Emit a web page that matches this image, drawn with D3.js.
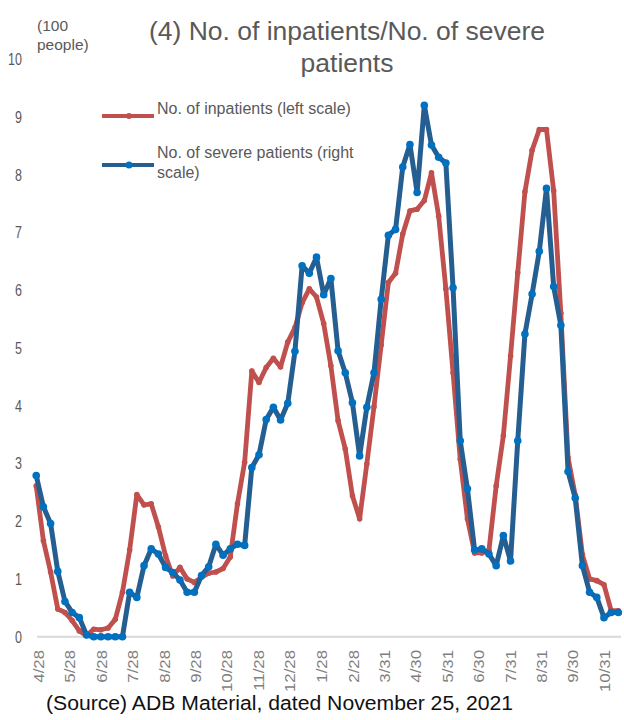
<!DOCTYPE html>
<html>
<head>
<meta charset="utf-8">
<script src="https://cdn.jsdelivr.net/npm/d3@7"></script>
<style>
  body { margin: 0; background: #fff; }
  svg { display: block; }
  text { font-family: "Liberation Sans", Arial, sans-serif; }
</style>
</head>
<body>
<svg id="chart" width="624" height="720"></svg>
<script>
// Weekly series, first week starting 2020-04-25 (units: 100 people)
const firstWeek = "2020-04-25";
const inpatients = [
  2.61, 1.66, 1.12, 0.48, 0.42, 0.28, 0.10, 0.02, 0.13, 0.12,
  0.15, 0.30, 0.77, 1.50, 2.46, 2.28, 2.30, 1.90, 1.40, 1.05,
  1.20, 1.00, 0.94, 1.03, 1.10, 1.12, 1.18, 1.38, 2.30, 3.02,
  4.60, 4.40, 4.66, 4.82, 4.67, 5.10, 5.35, 5.78, 6.02, 5.88,
  5.42, 4.69, 3.74, 3.25, 2.44, 2.04, 2.99, 3.98, 5.05, 6.13,
  6.29, 6.97, 7.37, 7.40, 7.55, 8.03, 7.28, 6.02, 4.57, 3.07,
  2.04, 1.45, 1.45, 1.50, 2.61, 3.48, 4.86, 6.30, 7.70, 8.42,
  8.78, 8.78, 7.72, 5.60, 3.10, 2.45, 1.42, 1.00, 0.97, 0.90,
  0.45, 0.45
];
const severe = [
  2.79, 2.25, 1.96, 1.13, 0.61, 0.42, 0.33, 0.03, 0.00, 0.00,
  0.00, 0.00, 0.00, 0.77, 0.68, 1.23, 1.52, 1.43, 1.20, 1.11,
  0.98, 0.77, 0.77, 1.06, 1.21, 1.60, 1.41, 1.52, 1.60, 1.58,
  2.93, 3.15, 3.76, 3.97, 3.75, 4.04, 4.94, 6.42, 6.29, 6.57,
  5.92, 6.20, 4.95, 4.57, 4.05, 3.13, 3.97, 4.57, 5.84, 6.95,
  7.05, 8.13, 8.52, 7.69, 9.20, 8.51, 8.30, 8.20, 6.04, 3.39,
  2.56, 1.50, 1.52, 1.43, 1.23, 1.75, 1.31, 3.39, 5.24, 5.93,
  6.67, 7.76, 6.06, 5.39, 2.86, 2.40, 1.23, 0.77, 0.68, 0.33,
  0.42, 0.42
];
const tickDates = [
  "2020-04-28", "2020-05-28", "2020-06-28", "2020-07-28", "2020-08-28",
  "2020-09-28", "2020-10-28", "2020-11-28", "2020-12-28", "2021-01-28",
  "2021-02-28", "2021-03-31", "2021-04-30", "2021-05-31", "2021-06-30",
  "2021-07-31", "2021-08-31", "2021-09-30", "2021-10-31"
];
const tickLabels = [
  "4/28", "5/28", "6/28", "7/28", "8/28", "9/28", "10/28", "11/28", "12/28",
  "1/28", "2/28", "3/31", "4/30", "5/31", "6/30", "7/31", "8/31", "9/30", "10/31"
];
const yTicks = [0, 1, 2, 3, 4, 5, 6, 7, 8, 9, 10];
const titleLines = ["(4) No. of inpatients/No. of severe", "patients"];
const unitLines = ["(100", "people)"];
const legendRed = ["No. of inpatients (left scale)"];
const legendBlue = ["No. of severe patients (right", "scale)"];
const sourceNote = "(Source) ADB Material, dated November 25, 2021";

const RED = "#c0504d", BLUE_LINE = "#255e91", BLUE_DOT = "#0070c0";
const svg = d3.select("#chart");
const parse = d3.timeParse("%Y-%m-%d");

const weeks = d3.range(inpatients.length).map(i => d3.timeDay.offset(parse(firstWeek), 7 * i));

const x = d3.scaleTime()
  .domain([parse(tickDates[0]), parse(tickDates[tickDates.length - 1])])
  .range([39.3, 605]);
const y = d3.scaleLinear().domain([0, 10]).range([636.7, 59]);

// Title
svg.append("g").selectAll("text").data(titleLines).join("text")
  .attr("x", 347).attr("y", (d, i) => 40 + i * 32)
  .attr("text-anchor", "middle")
  .attr("font-size", 26.5).attr("fill", "#595959")
  .text(d => d);

// Unit note
svg.append("g").selectAll("text").data(unitLines).join("text")
  .attr("x", 37).attr("y", (d, i) => 31 + i * 19)
  .attr("font-size", 15.5).attr("fill", "#595959")
  .text(d => d);

// Y tick labels (tall, narrow digits)
svg.append("g").selectAll("text").data(yTicks).join("text")
  .attr("transform", d => `translate(22,${y(d)}) scale(1,1.35)`)
  .attr("dy", "0.36em")
  .attr("text-anchor", "end")
  .attr("font-size", 12.5).attr("fill", "#595959")
  .text(d => d);

// Baseline
svg.append("line")
  .attr("x1", 37).attr("x2", 621)
  .attr("y1", y(0)).attr("y2", y(0))
  .attr("stroke", "#d9d9d9").attr("stroke-width", 2);

// X tick labels, rotated
svg.append("g").selectAll("text").data(tickDates).join("text")
  .attr("transform", d => `translate(${x(parse(d))},650) rotate(-90) scale(1.2,1)`)
  .attr("dy", "0.36em")
  .attr("text-anchor", "end")
  .attr("font-size", 14).attr("fill", "#7f7f7f")
  .text((d, i) => tickLabels[i]);

// Series
const line = d3.line().x(d => x(d.date)).y(d => y(d.v));
function drawSeries(values, lineColor, dotColor, width, r) {
  const pts = values.map((v, i) => ({ date: weeks[i], v }));
  const g = svg.append("g");
  g.append("path").datum(pts)
    .attr("d", line)
    .attr("fill", "none")
    .attr("stroke", lineColor)
    .attr("stroke-width", width)
    .attr("stroke-linejoin", "round")
    .attr("stroke-linecap", "round");
  g.selectAll("circle").data(pts).join("circle")
    .attr("cx", d => x(d.date)).attr("cy", d => y(d.v))
    .attr("r", r).attr("fill", dotColor);
}
drawSeries(inpatients, RED, RED, 4.8, 2.8);
drawSeries(severe, BLUE_LINE, BLUE_DOT, 5, 3.8);

// Legend
function legendItem(lineY, textY, lineColor, dotColor, lines, r) {
  const g = svg.append("g");
  g.append("line").attr("x1", 102).attr("x2", 154)
    .attr("y1", lineY).attr("y2", lineY)
    .attr("stroke", lineColor).attr("stroke-width", 4);
  g.append("circle").attr("cx", 129).attr("cy", lineY).attr("r", r).attr("fill", dotColor);
  g.selectAll("text").data(lines).join("text")
    .attr("x", 157).attr("y", (d, i) => textY + i * 20)
    .attr("font-size", 16).attr("fill", "#595959")
    .text(d => d);
}
legendItem(116, 114, RED, RED, legendRed, 3);
legendItem(165, 158, BLUE_LINE, BLUE_DOT, legendBlue, 3.5);

// Source note
svg.append("text")
  .attr("x", 46).attr("y", 710)
  .attr("font-size", 20).attr("fill", "#111")
  .attr("textLength", 467).attr("lengthAdjust", "spacingAndGlyphs")
  .text(sourceNote);
</script>
</body>
</html>
